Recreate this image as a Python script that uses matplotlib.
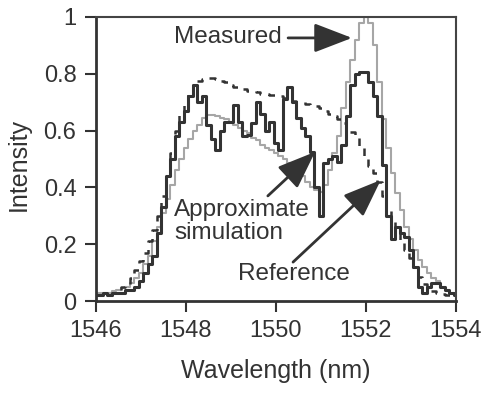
import numpy as np
import matplotlib
matplotlib.use("Agg")
import matplotlib.pyplot as plt

plt.rcParams['font.family'] = ['Liberation Sans', 'DejaVu Sans']

# wavelength grid (nm), 0.1 nm sampling
wavelength = np.linspace(1546, 1554, 81)

measured = [
    0.03, 0.03, 0.03, 0.03, 0.035, 0.04, 0.045, 0.05, 0.065, 0.08,
    0.10, 0.13, 0.16, 0.21, 0.26, 0.31, 0.36, 0.41, 0.46, 0.50,
    0.54, 0.57, 0.60, 0.62, 0.645, 0.655, 0.655, 0.65, 0.645, 0.64,
    0.63, 0.62, 0.61, 0.60, 0.59, 0.575, 0.565, 0.55, 0.54, 0.53,
    0.52, 0.51, 0.50, 0.485, 0.47, 0.46, 0.44, 0.42, 0.40, 0.39,
    0.385, 0.41, 0.46, 0.52, 0.58, 0.68, 0.77, 0.85, 0.92, 0.98,
    1.0, 0.98, 0.90, 0.77, 0.64, 0.54, 0.45, 0.38, 0.32, 0.26,
    0.22, 0.18, 0.145, 0.12, 0.10, 0.08, 0.07, 0.05, 0.04, 0.03,
    0.02,
]

approx_sim = [
    0.02, 0.02, 0.03, 0.02, 0.03, 0.03, 0.03, 0.04, 0.04, 0.05,
    0.07, 0.10, 0.13, 0.16, 0.24, 0.33, 0.44, 0.50, 0.58, 0.63,
    0.67, 0.72, 0.76, 0.70, 0.72, 0.62, 0.57, 0.53, 0.60, 0.63,
    0.63, 0.69, 0.63, 0.58, 0.585, 0.625, 0.70, 0.66, 0.60, 0.63,
    0.555, 0.53, 0.71, 0.755, 0.70, 0.645, 0.61, 0.58, 0.525, 0.40,
    0.30, 0.485, 0.50, 0.51, 0.49, 0.55, 0.65, 0.76, 0.80, 0.805,
    0.805, 0.77, 0.72, 0.65, 0.48, 0.30, 0.22, 0.26, 0.24, 0.225,
    0.18, 0.12, 0.05, 0.03, 0.05, 0.065, 0.065, 0.05, 0.04, 0.03,
    0.02,
]

reference = [
    0.02, 0.02, 0.02, 0.02, 0.03, 0.03, 0.05, 0.06, 0.08, 0.11,
    0.14, 0.17, 0.21, 0.25, 0.30, 0.37, 0.45, 0.52, 0.60, 0.66,
    0.70, 0.74, 0.76, 0.775, 0.78, 0.785, 0.785, 0.78, 0.775, 0.77,
    0.76, 0.755, 0.75, 0.745, 0.74, 0.74, 0.735, 0.73, 0.73, 0.725,
    0.725, 0.72, 0.715, 0.71, 0.705, 0.70, 0.70, 0.695, 0.69, 0.685,
    0.68, 0.67, 0.66, 0.65, 0.64, 0.625, 0.61, 0.595, 0.58, 0.54,
    0.50, 0.475, 0.45, 0.42, 0.37, 0.33, 0.29, 0.25, 0.21, 0.18,
    0.15, 0.12, 0.085, 0.06, 0.045, 0.035, 0.03, 0.025, 0.02, 0.02,
    0.02,
]

dark = '#333333'

fig = plt.figure(figsize=(4.82, 3.93), dpi=100)
ax = fig.add_axes([0.199, 0.234, 0.747, 0.723])

ax.plot(wavelength, measured, color='#a6a6a6', lw=1.5, drawstyle='steps-mid')
ax.plot(wavelength, reference, color=dark, lw=1.8, ls=(0, (3, 3)), drawstyle='steps-mid')
ax.plot(wavelength, approx_sim, color=dark, lw=2.2, drawstyle='steps-mid')

ax.set_xlim(1546, 1554)
ax.set_ylim(0, 1)
ax.set_xticks([1546, 1548, 1550, 1552, 1554])
ax.set_yticks([0, 0.2, 0.4, 0.6, 0.8, 1])
ax.set_yticklabels(['0', '0.2', '0.4', '0.6', '0.8', '1'])
ax.tick_params(direction='out', length=8, width=1.5, colors=dark, labelsize=17, pad=6)
for s in ['left', 'bottom']:
    ax.spines[s].set_linewidth(2)
    ax.spines[s].set_color(dark)
for s in ['top', 'right']:
    ax.spines[s].set_linewidth(1.5)
    ax.spines[s].set_color('#444444')

ax.set_xlabel('Wavelength (nm)', fontsize=18, color=dark, labelpad=12)
ax.set_ylabel('Intensity', fontsize=18, color=dark)
ax.yaxis.set_label_coords(-0.18, 0.48)

arrow = dict(arrowstyle='-|>,head_length=1.3,head_width=0.5', color=dark, lw=2,
             mutation_scale=18, shrinkA=0, shrinkB=0)
ax.annotate('', xy=(1551.69, 0.926), xytext=(1550.27, 0.926), arrowprops=arrow)
ax.annotate('', xy=(1550.87, 0.525), xytext=(1549.82, 0.37), arrowprops=arrow)
ax.annotate('', xy=(1552.33, 0.426), xytext=(1550.38, 0.137), arrowprops=arrow)

ax.text(1548.93, 0.93, 'Measured', fontsize=17.5, color=dark, ha='center', va='center')
ax.text(1547.74, 0.28, 'Approximate\nsimulation', fontsize=17.5, color=dark,
        ha='left', va='center', linespacing=1.05)
ax.text(1550.4, 0.095, 'Reference', fontsize=17.5, color=dark, ha='center', va='center')

fig.savefig('out.png', dpi=100)
